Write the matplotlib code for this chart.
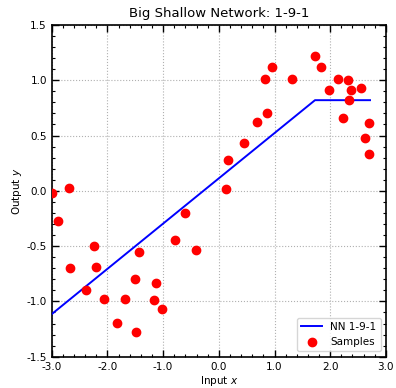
import numpy as np
import matplotlib
matplotlib.use("Agg")
import matplotlib.pyplot as plt
from matplotlib.ticker import MultipleLocator, FormatStrFormatter

plt.rcParams["axes.unicode_minus"] = False

# Training samples
x_samples = [-2.99, -2.695, -2.892, -2.246, -2.671, -2.21, -2.39, -2.066,
             -1.833, -1.684, -1.51, -1.492, -1.427, -1.133, -1.169, -1.014,
             -0.792, -0.601, -0.415, 0.129, 0.171, 0.447, 0.691, 0.865,
             0.829, 0.95, 1.314, 1.733, 1.84, 1.973, 2.14, 2.325, 2.373,
             2.337, 2.224, 2.558, 2.702, 2.625, 2.702]
y_samples = [-0.02, 0.027, -0.271, -0.50, -0.70, -0.693, -0.898, -0.976,
             -1.199, -0.979, -0.798, -1.278, -0.557, -0.832, -0.988, -1.073,
             -0.449, -0.204, -0.536, 0.013, 0.28, 0.437, 0.627, 0.70,
             1.01, 1.116, 1.007, 1.218, 1.116, 0.913, 1.007, 0.998, 0.913,
             0.823, 0.66, 0.931, 0.615, 0.474, 0.332]

# Network prediction (piecewise linear ReLU fit)
x_nn = [-3.0, 1.727, 2.715]
y_nn = [-1.115, 0.82, 0.82]

fig = plt.figure(figsize=(3.96, 3.88), dpi=100)
ax = fig.add_axes([0.1306, 0.0807, 0.8439, 0.8549])

ax.plot(x_nn, y_nn, color="b", lw=1.4, label="NN 1-9-1", zorder=3)
ax.plot(x_samples, y_samples, "o", color="r", ms=6, label="Samples",
        zorder=4, clip_on=True)

ax.set_xlim(-3.0, 3.0)
ax.set_ylim(-1.5, 1.5)
ax.xaxis.set_major_locator(MultipleLocator(1.0))
ax.xaxis.set_minor_locator(MultipleLocator(0.2))
ax.yaxis.set_major_locator(MultipleLocator(0.5))
ax.yaxis.set_minor_locator(MultipleLocator(0.1))
ax.xaxis.set_major_formatter(FormatStrFormatter("%.1f"))
ax.yaxis.set_major_formatter(FormatStrFormatter("%.1f"))
ax.tick_params(which="both", direction="in", top=True, right=True,
               labelsize=7.5)
ax.tick_params(which="major", length=5, width=1)
ax.tick_params(which="minor", length=2.5, width=0.8)
for s in ax.spines.values():
    s.set_linewidth(1.2)
ax.grid(True, which="major", linestyle=":", color="#b0b0b0", lw=0.8)

ax.set_title("Big Shallow Network: 1-9-1", fontsize=9.5)
ax.set_xlabel("Input $x$", fontsize=7.5, labelpad=2)
ax.set_ylabel("Output $y$", fontsize=7.5, labelpad=2)
ax.legend(loc="lower right", fontsize=7.5)

fig.savefig("out.png", dpi=100)
